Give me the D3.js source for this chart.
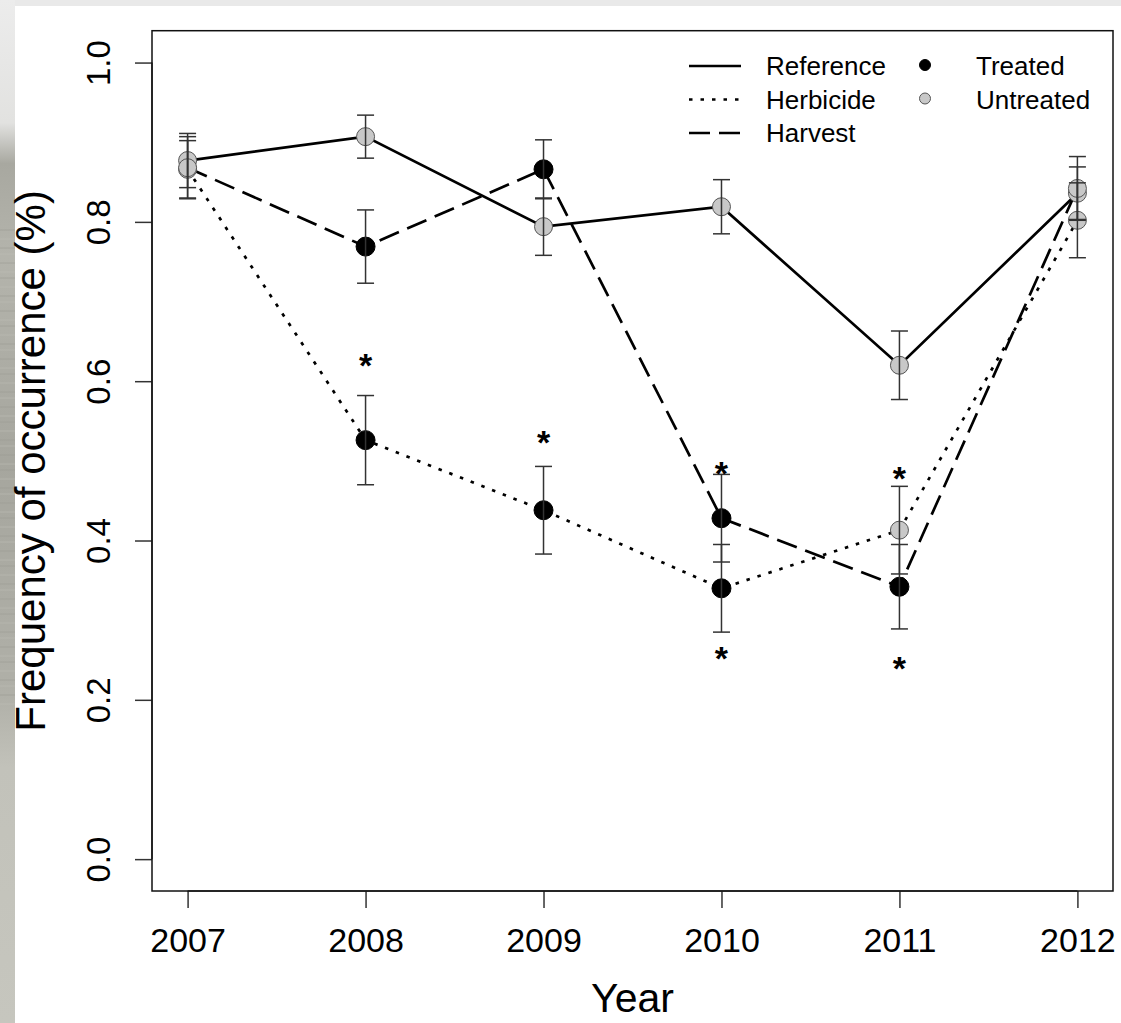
<!DOCTYPE html>
<html>
<head>
<meta charset="utf-8">
<script src="https://cdn.jsdelivr.net/npm/d3@7"></script>
<style>
  html, body { margin: 0; padding: 0; background: #ffffff; }
  svg { display: block; }
  text { font-family: "Liberation Sans", Arial, sans-serif; fill: #000; }
</style>
</head>
<body>
<svg id="chart" width="1121" height="1023"></svg>
<script>
// ---------- data ----------
const years = [2007, 2008, 2009, 2010, 2011, 2012];
const yTicks = [0.0, 0.2, 0.4, 0.6, 0.8, 1.0];

const refMean  = [0.877, 0.907, 0.794, 0.819, 0.620, 0.836];
const refSE    = [0.034, 0.027, 0.036, 0.034, 0.043, 0.033];
const refTreated = [false, false, false, false, false, false];

const herbMean = [0.866, 0.526, 0.438, 0.340, 0.413, 0.802];
const herbSE   = [0.036, 0.056, 0.055, 0.055, 0.055, 0.047];
const herbTreated = [false, true, true, true, false, false];

const harvMean = [0.868, 0.769, 0.866, 0.428, 0.342, 0.842];
const harvSE   = [0.039, 0.046, 0.037, 0.055, 0.053, 0.040];
const harvTreated = [false, true, true, true, true, false];

const starYears  = [2008, 2009, 2010, 2010, 2011, 2011];
const starValues = [0.630, 0.533, 0.495, 0.262, 0.488, 0.250];

const legendLines  = ["Reference", "Herbicide", "Harvest"];
const legendPoints = ["Treated", "Untreated"];

// ---------- setup ----------
const svg = d3.select("#chart");
const W = 1121, H = 1023;
const box = {left: 152, right: 1113, top: 30.7, bottom: 891};

const x = d3.scaleLinear().domain([2006.8, 2012.2]).range([box.left, box.right]);
const y = d3.scaleLinear().domain([-0.04, 1.04]).range([box.bottom, box.top]);

// ---------- background (photo-like strip at left/top) ----------
const defs = svg.append("defs");
const g1 = defs.append("linearGradient").attr("id", "stripGrad")
  .attr("x1", 0).attr("y1", 0).attr("x2", 0).attr("y2", 1);
[[0, "#ececec"], [0.12, "#e2e2e0"], [0.16, "#a8a8a0"], [0.25, "#b4b4ac"],
 [0.45, "#a6a69e"], [0.68, "#b0b0a8"], [0.75, "#c2c2ba"], [1, "#c6c6be"]]
  .forEach(([o, c]) => g1.append("stop").attr("offset", o).attr("stop-color", c));

svg.append("rect").attr("x", 0).attr("y", 0).attr("width", W).attr("height", H).attr("fill", "#ffffff");
svg.append("rect").attr("x", 0).attr("y", 0).attr("width", W).attr("height", 6).attr("fill", "#e9e9e9");
svg.append("rect").attr("x", 0).attr("y", 0).attr("width", 15).attr("height", H).attr("fill", "url(#stripGrad)");
// faint water ripples
const ripple = d3.range(0, 60);
svg.append("g").selectAll("line").data(ripple).join("line")
  .attr("x1", 0).attr("x2", 15)
  .attr("y1", d => 230 + d * 8 + (d % 3))
  .attr("y2", d => 230 + d * 8 + (d % 3))
  .attr("stroke", d => d % 2 ? "#bdbdb5" : "#9c9c94")
  .attr("stroke-width", 1).attr("opacity", 0.6);

// ---------- axes ----------
const axisColor = "#333";
const yAxis = d3.axisLeft(y).tickValues(yTicks).tickFormat(d3.format(".1f")).tickSize(17).tickPadding(0);
const gy = svg.append("g").attr("transform", `translate(${box.left},0)`).call(yAxis);
gy.select(".domain").attr("d", `M0,${y(0)}V${y(1)}`).attr("stroke", axisColor).attr("stroke-width", 1.5);
gy.selectAll(".tick line").attr("stroke", axisColor).attr("stroke-width", 1.5);
gy.selectAll(".tick text")
  .attr("font-size", 33).attr("font-family", "Liberation Sans, Arial, sans-serif")
  .attr("fill", "#000")
  .attr("text-anchor", "middle")
  .attr("x", null).attr("dy", null)
  .attr("transform", "translate(-42,0) rotate(-90)")
  .attr("y", 0);

const xAxis = d3.axisBottom(x).tickValues(years).tickFormat(d3.format("d")).tickSize(17).tickPadding(0);
const gx = svg.append("g").attr("transform", `translate(0,${box.bottom})`).call(xAxis);
gx.select(".domain").attr("d", `M${x(2007)},0H${x(2012)}`).attr("stroke", axisColor).attr("stroke-width", 1.5);
gx.selectAll(".tick line").attr("stroke", axisColor).attr("stroke-width", 1.5);
gx.selectAll(".tick text")
  .attr("font-size", 34).attr("font-family", "Liberation Sans, Arial, sans-serif")
  .attr("fill", "#000").attr("dy", null).attr("y", 61);

// box
svg.append("rect")
  .attr("x", box.left).attr("y", box.top)
  .attr("width", box.right - box.left).attr("height", box.bottom - box.top)
  .attr("fill", "none").attr("stroke", "#111").attr("stroke-width", 1.5);

// axis titles
svg.append("text").attr("x", (box.left + box.right) / 2).attr("y", 1012)
  .attr("text-anchor", "middle").attr("font-size", 41).text("Year");
svg.append("text")
  .attr("transform", `translate(45,${(box.top + box.bottom) / 2}) rotate(-90)`)
  .attr("text-anchor", "middle").attr("font-size", 42).text("Frequency of occurrence (%)");

// ---------- series ----------
const series = [
  {name: "Reference", mean: refMean, se: refSE, treated: refTreated, dash: null},
  {name: "Herbicide", mean: herbMean, se: herbSE, treated: herbTreated, dash: "3.5,8"},
  {name: "Harvest",   mean: harvMean, se: harvSE, treated: harvTreated, dash: "21,9"}
];

const line = d3.line().x(d => x(d.year)).y(d => y(d.v));
const plot = svg.append("g");

series.forEach(s => {
  const pts = years.map((yr, i) => ({year: yr, v: s.mean[i]}));
  plot.append("path").datum(pts)
    .attr("d", line).attr("fill", "none")
    .attr("stroke", "#000").attr("stroke-width", 2.7)
    .attr("stroke-dasharray", s.dash);
});

series.forEach(s => {
  const pts = years.map((yr, i) => ({year: yr, v: s.mean[i], t: s.treated[i]}));
  plot.append("g").selectAll("circle").data(pts).join("circle")
    .attr("cx", d => x(d.year)).attr("cy", d => y(d.v))
    .attr("r", d => d.t ? 9.5 : 9)
    .attr("fill", d => d.t ? "#000" : "#c8c8c8")
    .attr("stroke", d => d.t ? "#000" : "#555")
    .attr("stroke-width", 1);
});

// error bars
series.forEach(s => {
  const eb = years.map((yr, i) => ({year: yr, lo: s.mean[i] - s.se[i], hi: s.mean[i] + s.se[i]}));
  const g = plot.append("g").attr("stroke", "#333").attr("stroke-width", 1.5);
  g.selectAll(".v").data(eb).join("line")
    .attr("x1", d => x(d.year)).attr("x2", d => x(d.year))
    .attr("y1", d => y(d.lo)).attr("y2", d => y(d.hi));
  g.selectAll(".t").data(eb).join("line")
    .attr("x1", d => x(d.year) - 8.5).attr("x2", d => x(d.year) + 8.5)
    .attr("y1", d => y(d.hi)).attr("y2", d => y(d.hi));
  g.selectAll(".b").data(eb).join("line")
    .attr("x1", d => x(d.year) - 8.5).attr("x2", d => x(d.year) + 8.5)
    .attr("y1", d => y(d.lo)).attr("y2", d => y(d.lo));
});

// significance stars
plot.append("g").selectAll("text").data(starYears.map((yr, i) => ({year: yr, v: starValues[i]})))
  .join("text")
  .attr("x", d => x(d.year)).attr("y", d => y(d.v))
  .attr("dy", "0.58em")
  .attr("text-anchor", "middle").attr("font-size", 34).attr("font-weight", "bold")
  .text("*");

// ---------- legend ----------
const leg = svg.append("g");
const rowY = i => 66 + i * 33.5;
legendLines.forEach((name, i) => {
  leg.append("line").attr("x1", 689).attr("x2", 741)
    .attr("y1", rowY(i)).attr("y2", rowY(i))
    .attr("stroke", "#000").attr("stroke-width", 2.6)
    .attr("stroke-dasharray", series[i].dash);
  leg.append("text").attr("x", 766).attr("y", rowY(i) + 9)
    .attr("font-size", 26).text(name);
});
legendPoints.forEach((name, i) => {
  const treated = i === 0;
  leg.append("circle").attr("cx", 925).attr("cy", rowY(i) - 1)
    .attr("r", 5.5)
    .attr("fill", treated ? "#000" : "#c8c8c8")
    .attr("stroke", treated ? "#000" : "#555").attr("stroke-width", 1);
  leg.append("text").attr("x", 976).attr("y", rowY(i) + 9)
    .attr("font-size", 26).text(name);
});
</script>
</body>
</html>
